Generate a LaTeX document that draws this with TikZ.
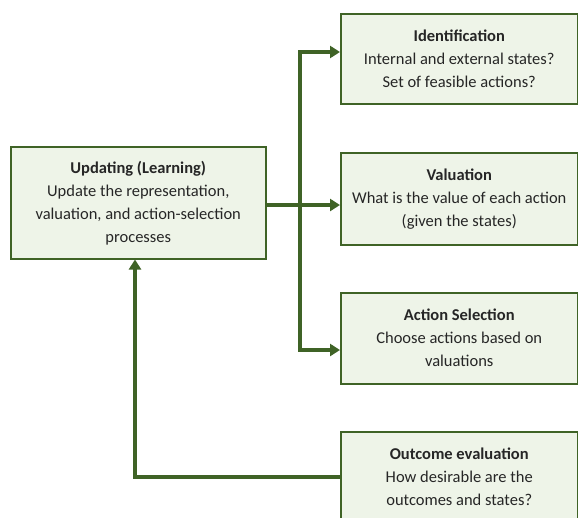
\documentclass[tikz,border=0pt]{standalone}
\usepackage{fontspec}
\setmainfont{Carlito}
\usetikzlibrary{arrows.meta}
\definecolor{gborder}{HTML}{3F6326}
\definecolor{gfill}{HTML}{EEF4E8}
\begin{document}
\begin{tikzpicture}[x=1pt,y=-1pt,
 box/.style={draw=gborder,line width=1.5pt,fill=gfill,align=center,
   font=\fontsize{16.5}{23}\selectfont,inner sep=0pt,anchor=north west,text=black!85},
 conn/.style={draw=gborder,line width=4pt},
 arr/.style={conn,-{Triangle[length=10pt,width=12pt]}}]
\useasboundingbox (0,0) rectangle (578,517);
\node[box,minimum width=255pt,minimum height=112pt] (upd) at (10,146)
  {\textbf{Updating (Learning)}\\Update the representation,\\valuation, and action-selection\\processes};
\node[box,minimum width=237pt,minimum height=90pt] (ident) at (340,13)
  {\textbf{Identification}\\Internal and external states?\\Set of feasible actions?};
\node[box,minimum width=237pt,minimum height=92pt] (val) at (340,152)
  {\textbf{Valuation}\\What is the value of each action\\(given the states)};
\node[box,minimum width=237pt,minimum height=91pt] (act) at (340,292)
  {\textbf{Action Selection}\\Choose actions based on\\valuations};
\node[box,minimum width=237pt,minimum height=91pt] (out) at (340,431)
  {\textbf{Outcome evaluation}\\How desirable are the\\outcomes and states?};
\coordinate (j) at (300,205);
\coordinate (ti) at (300,52);
\coordinate (ta) at (300,350);
\coordinate (fb) at (135,477);
\draw[arr] (upd.east |- j) -- (val.west |- j);
\draw[arr] (j) -- (ti) -- (ident.west |- ti);
\draw[arr] (j) -- (ta) -- (act.west |- ta);
\draw[arr] (out.west |- fb) -- (fb) -- (upd.south -| fb);
\end{tikzpicture}
\end{document}
